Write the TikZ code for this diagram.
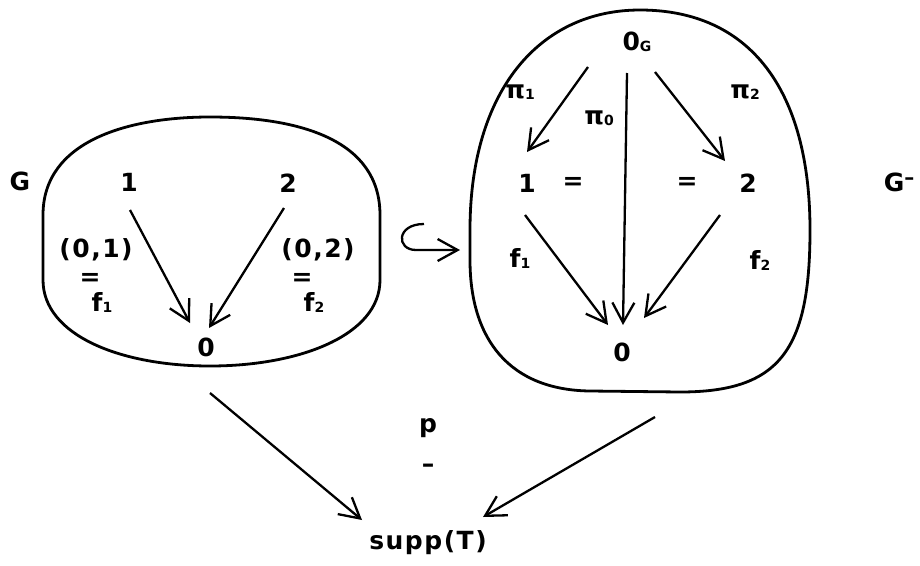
\documentclass[tikz,border=0pt]{standalone}
\usepackage{fontspec}
\setmainfont{DejaVu Sans}[LetterSpace=6]
\newfontfamily\plainf{DejaVu Sans}
\usetikzlibrary{arrows.meta}
\newcommand\mysb[1]{\raisebox{-1pt}{\fontsize{14}{14}\selectfont #1}}
\newcommand\mysp[1]{\raisebox{7pt}{\plainf\fontsize{20}{20}\selectfont\bfseries #1}}
\tikzset{
  lbl/.style={font=\fontsize{25}{27}\selectfont\bfseries, inner sep=0pt},
  arr/.style={line width=2.3pt, -{Straight Barb[length=20pt,width=22pt,line width=2.3pt]}},
  blob/.style={line width=2.8pt},
}
\begin{document}
\begin{tikzpicture}[x=1pt,y=-1pt]
\useasboundingbox (0,0) rectangle (920,565);
% blobs
\draw[blob] (43,215) .. controls (43,140) and (130,117) .. (210,117)
  .. controls (300,117) and (380,140) .. (380,215) -- (380,280)
  .. controls (380,335) and (300,366) .. (210,366)
  .. controls (120,366) and (43,335) .. (43,280) -- cycle;
\draw[blob] (470,230) .. controls (470,90) and (540,10) .. (640,10)
  .. controls (750,10) and (810,90) .. (810,230)
  .. controls (810,350) and (780,392) .. (680,392) -- (590,391)
  .. controls (510,390) and (470,340) .. (470,260) -- cycle;
\coordinate (Gb) at (210,366);
\coordinate (Hb) at (640,392);
% left graph
\node[lbl] (G) at (20,181) {G};
\node[lbl] (n1) at (129,182) {1};
\node[lbl] (n2) at (288,183) {2};
\node[lbl] (n0) at (206,347) {0};
\node[lbl] (l01) at (96,250) {(0,1)};
\node[lbl] (e1) at (90,279) {=};
\node[lbl] (f1) at (102,302) {f\mysb{1}};
\node[lbl] (l02) at (318,250) {(0,2)};
\node[lbl] (e2) at (302,279) {=};
\node[lbl] (f2) at (314,302) {f\mysb{2}};
\draw[arr] ([shift={(1,28)}]n1.center) -- ([shift={(-16,-24)}]n0.center);
\draw[arr] ([shift={(-4,25)}]n2.center) -- ([shift={(3,-19)}]n0.center);
% hook arrow
\coordinate (hs) at (424,224);
\coordinate (hm) at (416,250);
\coordinate (he) at (460,250);
\draw[line width=2.3pt, -{Straight Barb[length=20pt,width=22pt,line width=2.3pt]}]
  (hs) .. controls (396,224) and (396,250) .. (hm) -- (he);
% right graph
\node[lbl] (r0G) at (637,42) {0\mysb{G}};
\node[lbl] (p1) at (520,92) {π\mysb{1}};
\node[lbl] (p0) at (599,118) {π\mysb{0}};
\node[lbl] (p2) at (745,92) {π\mysb{2}};
\node[lbl] (rA1) at (527,183) {1};
\node[lbl] (eq1) at (573,183) {=};
\node[lbl] (eq2) at (687,183) {=};
\node[lbl] (rA2) at (748,183) {2};
\node[lbl] (rf1) at (520,258) {f\mysb{1}};
\node[lbl] (rf2) at (760,260) {f\mysb{2}};
\node[lbl] (r0) at (622,352) {0};
\node[lbl] (Gm) at (899,182) {G\mysp{–}};
\draw[arr] ([shift={(-49,25)}]r0G.center) -- ([shift={(0,-31)}]rA1.center);
\draw[arr] ([shift={(-10,31)}]r0G.center) -- ([shift={(1,-27)}]r0.center);
\draw[arr] ([shift={(18,30)}]r0G.center) -- ([shift={(-23,-22)}]rA2.center);
\draw[arr] ([shift={(-2,32)}]rA1.center) -- ([shift={(-14,-27)}]r0.center);
\draw[arr] ([shift={(-28,32)}]rA2.center) -- ([shift={(22,-34)}]r0.center);
% bottom
\node[lbl] (supp) at (428,543) {supp(T)};
\node[lbl] (p) at (428,428) {p};
\node[lbl, font=\plainf\fontsize{25}{27}\selectfont\bfseries] (bar) at (428,468) {–};
\draw[arr] ([shift={(0,27)}]Gb) -- ([shift={(-66,-23)}]supp.center);
\draw[arr] ([shift={(15,25)}]Hb) -- ([shift={(55,-26)}]supp.center);
\end{tikzpicture}
\end{document}
